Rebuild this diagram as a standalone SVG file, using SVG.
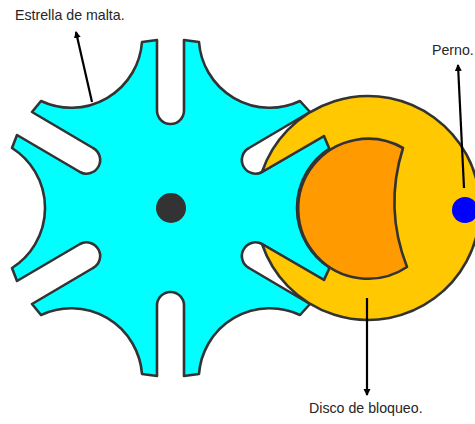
<svg xmlns="http://www.w3.org/2000/svg" width="475" height="424" viewBox="0 0 475 424">
  <style>
    .shape { stroke: #333; stroke-width: 2.6; stroke-linejoin: round; }
    .link { stroke: #000; stroke-width: 2.2; fill: none; marker-end: url(#head); }
    text { font-family: "Liberation Sans", Arial, sans-serif; font-size: 14.2px; fill: #262626; }
  </style>
  <defs>
    <marker id="head" markerUnits="userSpaceOnUse" markerWidth="8" markerHeight="8" refX="6" refY="3.500" orient="auto">
      <path d="M0,0 L7,3.500 L0,7 Z" fill="#000"/>
    </marker>
  </defs>
  <rect width="475" height="424" fill="#fff"/>
  <g id="estrella">
    <path class="shape" fill="#00ffff" d="M157,40 L157,110.500 A13.500,13.500 0 0 0 184,110.500 L184,40 L199,42 A71,71 0 0 0 300,101 L310,112 L249,148 A13.500,13.500 0 0 0 262,172 L324,136 L330,148 A71,71 0 0 0 330,268 L324,280 L262,244 A13.500,13.500 0 0 0 249,268 L310,304 L300,315 A71,71 0 0 0 199,374 L184,376 L184,305.500 A13.500,13.500 0 0 0 157,305.500 L157,376 L142,374 A71,71 0 0 0 41,315 L32,304 L93,268 A13.500,13.500 0 0 0 80,244 L17,281 L12,268 A71,71 0 0 0 12,148 L17,135 L80,172 A13.500,13.500 0 0 0 93,148 L32,112 L41,101 A71,71 0 0 0 142,42 Z"/>
    <circle cx="171" cy="208" r="15" fill="#333"/>
  </g>
  <g id="disco">
    <path class="shape" fill="#ffc800" d="M262,172 A112,112 0 1 1 262,244 L324,280 L329,269 L340,208 L329,148 L324,136 Z"/>
    <path class="shape" fill="#ff9a00" d="M403,148 A70,70 0 1 0 407,267 Q384,208 403,148 Z"/>
  </g>
  <g id="perno">
    <circle cx="465" cy="210" r="13" fill="#0000ff"/>
  </g>
  <g id="connectors">
    <path class="link" d="M92,102 L76,32"/>
    <path class="link" d="M464,188 L458,65"/>
    <path class="link" d="M367,298 L367,395"/>
  </g>
  <text x="15" y="20">Estrella de malta.</text>
  <text x="432" y="55">Perno.</text>
  <text x="309" y="413">Disco de bloqueo.</text>
</svg>
